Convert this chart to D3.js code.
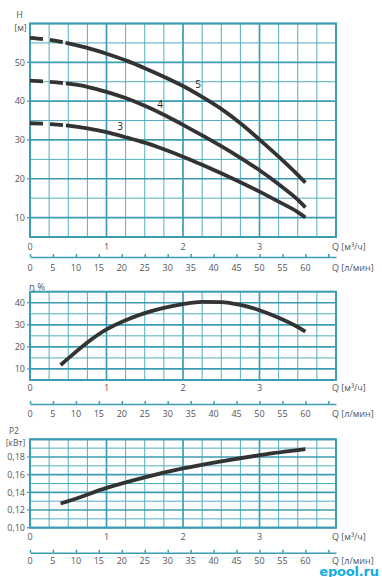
<!DOCTYPE html>
<html><head><meta charset="utf-8">
<script src="https://cdnjs.cloudflare.com/ajax/libs/d3/7.8.5/d3.min.js"></script>
<style>body{margin:0;background:#fff}svg{display:block}text{font-family:"Open Sans",sans-serif}</style>
</head><body><svg id="c" width="382" height="577"></svg>
<script>
// ---- data ----
const qTicks = [0, 1, 2, 3];
const lminTicks = [0, 5, 10, 15, 20, 25, 30, 35, 40, 45, 50, 55, 60];
const hTicks = [10, 20, 30, 40, 50];
const etaTicks = [10, 20, 30, 40];
const p2Ticks = [0.10, 0.12, 0.14, 0.16, 0.18];
const curveNames = ["5", "4", "3"];
const qHead = [0, 0.25, 0.5, 0.75, 1, 1.25, 1.5, 1.75, 2, 2.25, 2.5, 2.75, 3, 3.25, 3.5, 3.6];
const head5 = [56.3, 55.8, 54.9, 53.7, 52.2, 50.5, 48.5, 46.3, 43.9, 41.1, 38.0, 34.3, 30.1, 25.7, 21.0, 19.0];
const head4 = [45.3, 45.0, 44.5, 43.7, 42.4, 40.8, 38.8, 36.5, 33.9, 31.2, 28.4, 25.4, 22.2, 18.6, 14.6, 12.6];
const head3 = [34.3, 34.1, 33.7, 33.0, 32.0, 30.7, 29.3, 27.6, 25.7, 23.6, 21.4, 19.1, 16.7, 14.1, 11.4, 10.0];
const qEff = [0.4, 0.5, 0.75, 1, 1.25, 1.5, 1.75, 2, 2.25, 2.5, 2.75, 3, 3.25, 3.5, 3.6];
const eff = [11.8, 14.8, 22.0, 27.9, 32.1, 35.3, 37.7, 39.4, 40.4, 40.3, 39.0, 36.6, 33.2, 29.0, 26.9];
const qPow = [0.4, 0.5, 1, 1.5, 2, 2.5, 3, 3.6];
const power = [0.1274, 0.130, 0.145, 0.157, 0.167, 0.175, 0.182, 0.1888];

// ---- layout ----
const svg = d3.select("#c");
svg.append("rect").attr("width", 382).attr("height", 577).attr("fill", "#fff");
const L = 30, R = 336;
const x = d3.scaleLinear([0, 4], [L, R]);
const xl = d3.scaleLinear([0, 4000 / 60], [L, R]);
const GRID = "#52adbf", GRIDM = "#3c9db2", TXT = "#555", CURVE = "#333";

const panels = [
  {y: d3.scaleLinear([5, 60], [237, 23.5]), step: 5, major: 10, ticks: hTicks, fmt: d3.format("d"),
   qLab: 249.5, lAx: 257, lLab: 270.5},
  {y: d3.scaleLinear([5, 45], [380, 291.7]), step: 5, major: 10, ticks: etaTicks, fmt: d3.format("d"),
   qLab: 391.3, lAx: 404, lLab: 416.6},
  {y: d3.scaleLinear([0.10, 0.20], [527.7, 439.3]), step: 0.01, major: 0.02, ticks: p2Ticks,
   fmt: d => d3.format(".2f")(d).replace(".", ","), qLab: 540, lAx: 552.7, lLab: 563.5}
];

const isMult = (v, m) => Math.abs(v / m - Math.round(v / m)) < 1e-6;

panels.forEach(p => {
  const g = svg.append("g");
  const [y0, y1] = p.y.domain();
  const yb = p.y.range()[0], yt = p.y.range()[1];
  const xv = d3.range(0, 4.0001, 0.25);
  const yv = d3.range(y0, y1 + p.step / 2, p.step);
  g.selectAll("line.v").data(xv).join("line")
    .attr("x1", d => x(d)).attr("x2", d => x(d)).attr("y1", yt).attr("y2", yb)
    .attr("stroke", d => isMult(d, 1) ? GRIDM : GRID).attr("stroke-width", d => isMult(d, 1) ? 1.7 : 1);
  g.selectAll("line.h").data(yv).join("line")
    .attr("x1", L).attr("x2", R).attr("y1", d => p.y(d)).attr("y2", d => p.y(d))
    .attr("stroke", d => isMult(d, p.major) ? GRIDM : GRID).attr("stroke-width", d => isMult(d, p.major) ? 1.7 : 1);
  g.append("rect").attr("x", L).attr("y", yt).attr("width", R - L).attr("height", yb - yt)
    .attr("fill", "none").attr("stroke", GRIDM).attr("stroke-width", 2);
  // y ticks + labels
  g.selectAll("line.yt").data(p.ticks).join("line")
    .attr("x1", L - 3).attr("x2", L).attr("y1", d => p.y(d)).attr("y2", d => p.y(d))
    .attr("stroke", GRIDM).attr("stroke-width", 1.2);
  g.selectAll("text.yl").data(p.ticks).join("text")
    .attr("x", 25).attr("y", d => p.y(d) + 3.3).attr("text-anchor", "end")
    .attr("font-size", 9).attr("fill", TXT).text(p.fmt);
  // Q m3/h labels
  g.selectAll("text.q").data(qTicks).join("text")
    .attr("x", d => x(d)).attr("y", p.qLab).attr("text-anchor", "middle")
    .attr("font-size", 9).attr("fill", TXT).text(d => d);
  g.append("text").attr("x", 332).attr("y", p.qLab).attr("font-size", 9).attr("fill", TXT)
    .text("Q [м³/ч]");
  // l/min axis
  const ax = g.append("g").attr("transform", `translate(0,${p.lAx})`)
    .call(d3.axisTop(xl).tickValues(d3.range(0, 66, 5)).tickSize(3).tickSizeOuter(0).tickFormat(""));
  ax.selectAll("path,line").attr("stroke", GRIDM).attr("stroke-width", 1.5);
  g.selectAll("text.l").data(lminTicks).join("text")
    .attr("x", d => xl(d)).attr("y", p.lLab).attr("text-anchor", "middle")
    .attr("font-size", 9).attr("fill", TXT).text(d => d);
  g.append("text").attr("x", 332).attr("y", p.lLab).attr("font-size", 9).attr("fill", TXT)
    .text("Q [л/мин]");
});

// axis titles
svg.append("text").attr("x", 19.5).attr("y", 18).attr("text-anchor", "middle").attr("font-size", 9).attr("fill", TXT).text("H");
svg.append("text").attr("x", 20.5).attr("y", 30.5).attr("text-anchor", "middle").attr("font-size", 9).attr("fill", TXT).text("[м]");
svg.append("text").attr("x", 29).attr("y", 290).attr("font-size", 9.5).attr("fill", TXT).text("η %");
svg.append("text").attr("x", 14).attr("y", 433.5).attr("text-anchor", "middle").attr("font-size", 8.5).attr("fill", TXT).text("P2");
svg.append("text").attr("x", 15.5).attr("y", 446).attr("text-anchor", "middle").attr("font-size", 8.5).attr("fill", TXT).text("[кВт]");

// ---- curves ----
const yH = panels[0].y, yE = panels[1].y, yP = panels[2].y;
const heads = [head5, head4, head3];
const lineH = d3.line().x((d, i) => x(qHead[i])).y(d => yH(d)).curve(d3.curveMonotoneX);
svg.append("g").selectAll("path").data(heads).join("path")
  .attr("d", lineH).attr("fill", "none").attr("stroke", CURVE).attr("stroke-width", 3.8)
  .attr("stroke-dasharray", "13,7,13,3,3000");
const labPos = [[198, 88], [160, 108], [120, 130]];
svg.append("g").selectAll("text").data(curveNames).join("text")
  .attr("x", (d, i) => labPos[i][0]).attr("y", (d, i) => labPos[i][1])
  .attr("text-anchor", "middle").attr("font-size", 10).attr("fill", "#222").text(d => d);

svg.append("path").datum(eff)
  .attr("d", d3.line().x((d, i) => x(qEff[i])).y(d => yE(d)).curve(d3.curveMonotoneX))
  .attr("fill", "none").attr("stroke", CURVE).attr("stroke-width", 3.8);
svg.append("path").datum(power)
  .attr("d", d3.line().x((d, i) => x(qPow[i])).y(d => yP(d)).curve(d3.curveMonotoneX))
  .attr("fill", "none").attr("stroke", CURVE).attr("stroke-width", 3.8);

// logo
svg.append("text").attr("x", 349).attr("y", 575.5).attr("text-anchor", "middle")
  .attr("font-size", 13).attr("font-weight", "bold").attr("fill", "#12aee0")
  .style("font-family", "DejaVu Sans").attr("letter-spacing", -0.2).text("epool.ru");
</script></body></html>
